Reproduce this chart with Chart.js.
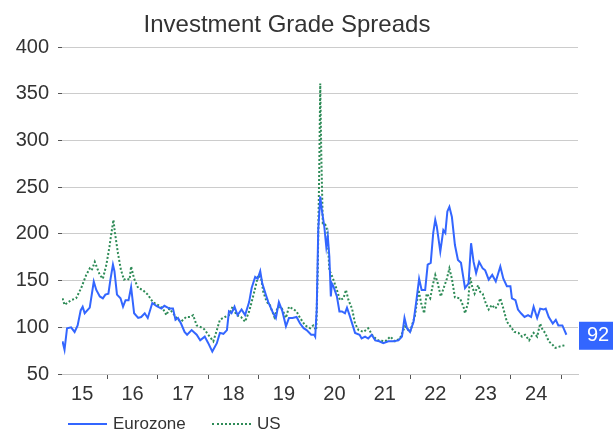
<!DOCTYPE html>
<html>
<head>
<meta charset="utf-8">
<script src="https://cdn.jsdelivr.net/npm/chart.js@4.4.1/dist/chart.umd.min.js"></script>
<style>
  html, body { margin: 0; padding: 0; background: #fff; overflow: hidden; }
  #wrap { position: relative; width: 613px; height: 430px; }
  #legend { position: absolute; left: 0; top: 413px; width: 613px; height: 22px;
            font: 17px "Liberation Sans", Arial, sans-serif; color: #333; }
  .item { position: absolute; top: 0; height: 22px; display: flex; align-items: center; white-space: nowrap; }
  .swatch { width: 39px; height: 0; margin-right: 6px; }
</style>
</head>
<body>
<div id="wrap">
  <canvas id="c" width="613" height="430"></canvas>
  <div id="legend"></div>
</div>
<script>
// ---- Data (dates as decimal years, values in bp) ----
const TITLE = "Investment Grade Spreads";
const seriesNames = ["Eurozone", "US"];
const yearLabels = ["15","16","17","18","19","20","21","22","23","24"];
const yTicks = [50, 100, 150, 200, 250, 300, 350, 400];

const euroDates = [
  2015.11,2015.15,2015.20,2015.28,2015.35,2015.41,2015.47,2015.51,2015.55,2015.65,
  2015.73,2015.78,2015.85,2015.91,2015.96,2016.02,2016.06,2016.11,2016.14,2016.19,
  2016.26,2016.31,2016.36,2016.42,2016.47,2016.53,2016.61,2016.67,2016.74,2016.80,
  2016.89,2016.97,2017.07,2017.13,2017.23,2017.30,2017.35,2017.40,2017.46,2017.53,
  2017.58,2017.67,2017.77,2017.84,2017.93,2018.00,2018.08,2018.17,2018.23,2018.30,
  2018.37,2018.41,2018.46,2018.52,2018.58,2018.66,2018.73,2018.81,2018.86,2018.93,
  2018.98,2019.03,2019.07,2019.14,2019.19,2019.27,2019.34,2019.40,2019.47,2019.54,
  2019.60,2019.67,2019.75,2019.82,2019.89,2019.95,2020.04,2020.10,2020.12,2020.15,
  2020.18,2020.22,2020.25,2020.30,2020.34,2020.37,2020.40,2020.43,2020.45,2020.48,
  2020.55,2020.60,2020.65,2020.71,2020.75,2020.80,2020.87,2020.91,2021.00,2021.04,
  2021.11,2021.17,2021.24,2021.31,2021.39,2021.47,2021.57,2021.67,2021.77,2021.84,
  2021.89,2021.94,2022.00,2022.07,2022.12,2022.18,2022.23,2022.30,2022.35,2022.41,
  2022.46,2022.50,2022.53,2022.60,2022.66,2022.70,2022.74,2022.78,2022.83,2022.89,
  2022.95,2023.01,2023.09,2023.16,2023.21,2023.26,2023.31,2023.37,2023.44,2023.49,
  2023.56,2023.63,2023.70,2023.79,2023.85,2023.92,2023.99,2024.02,2024.09,2024.14,
  2024.20,2024.27,2024.34,2024.40,2024.45,2024.52,2024.58,2024.65,2024.69,2024.75,
  2024.83,2024.89,2024.94,2025.02,2025.10
];
const euroValues = [
  85,76,99,100,95,102,118,122,115,121,
  149,140,133,131,135,136,151,167,160,135,
  131,122,129,129,143,115,110,111,115,110,
  126,123,120,123,120,120,108,110,104,95,
  92,97,92,86,90,83,74,83,94,93,
  97,117,115,122,113,119,113,127,142,154,
  152,160,147,135,127,117,110,127,117,101,
  110,110,111,104,99,97,92,92,90,119,
  204,240,226,208,186,197,176,133,147,144,
  133,117,117,115,121,113,101,94,92,88,
  90,88,92,86,85,83,85,85,86,90,
  110,99,95,106,126,152,140,140,167,169,
  201,215,208,181,204,201,224,229,218,188,
  172,169,142,147,190,170,158,170,163,161,
  151,156,149,165,152,144,144,131,129,119,
  115,111,113,111,122,110,120,119,120,111,
  104,108,102,102,92
];

const usDates = [
  2015.11,2015.15,2015.28,2015.38,2015.48,2015.58,2015.65,2015.69,2015.75,2015.85,
  2015.91,2015.98,2016.04,2016.08,2016.12,2016.15,2016.21,2016.27,2016.33,2016.37,
  2016.44,2016.47,2016.53,2016.61,2016.70,2016.80,2016.90,2017.00,2017.10,2017.17,
  2017.23,2017.33,2017.40,2017.46,2017.56,2017.64,2017.70,2017.77,2017.86,2017.92,
  2018.00,2018.10,2018.17,2018.23,2018.33,2018.41,2018.48,2018.56,2018.65,2018.73,
  2018.81,2018.86,2018.93,2018.99,2019.05,2019.09,2019.16,2019.22,2019.31,2019.38,
  2019.46,2019.54,2019.60,2019.67,2019.75,2019.82,2019.92,2020.02,2020.08,2020.14,
  2020.17,2020.20,2020.22,2020.24,2020.27,2020.32,2020.36,2020.40,2020.43,2020.48,
  2020.55,2020.61,2020.68,2020.73,2020.78,2020.85,2020.91,2020.98,2021.08,2021.17,
  2021.27,2021.37,2021.51,2021.61,2021.70,2021.80,2021.90,2022.00,2022.10,2022.17,
  2022.22,2022.28,2022.33,2022.40,2022.45,2022.50,2022.55,2022.61,2022.68,2022.73,
  2022.78,2022.83,2022.89,2022.99,2023.06,2023.09,2023.15,2023.19,2023.23,2023.28,
  2023.35,2023.39,2023.44,2023.50,2023.56,2023.62,2023.69,2023.74,2023.79,2023.85,
  2023.92,2023.99,2024.07,2024.15,2024.22,2024.28,2024.36,2024.45,2024.52,2024.58,
  2024.63,2024.68,2024.75,2024.83,2024.88,2024.94,2025.01,2025.09
];
const usValues = [
  131,124,129,131,142,156,163,161,170,156,
  152,167,186,201,215,201,179,161,151,152,
  151,165,152,142,140,135,127,124,120,113,
  120,113,108,106,111,111,113,102,100,98,
  92,85,97,108,111,113,122,113,111,106,
  117,127,142,156,152,138,127,124,111,122,
  120,110,122,120,117,110,102,99,102,97,
  161,268,361,286,211,210,204,161,158,151,
  140,129,131,140,129,120,104,97,95,99,
  90,86,85,90,85,88,101,95,113,140,
  126,115,136,131,145,156,147,133,144,152,
  163,152,132,131,122,115,126,154,144,136,
  145,138,136,126,119,124,120,124,131,120,
  106,101,95,94,90,92,86,94,90,104,
  97,94,85,81,78,79,80,81
];

// ---- Styling ----
const BLUE = "#3366ff";
const GREEN = "#2e8b57";
const FONT = '"Liberation Sans", Arial, sans-serif';
const TEXT = "#333333";
const X_MIN = 2015.10, X_MAX = 2025.33;

function toPoints(dates, values) {
  return dates.map((d, i) => ({ x: d, y: values[i] }));
}

// x tick positions: year boundaries (marks) and mid-years (labels)
const xTickValues = [];
yearLabels.forEach((lbl, i) => {
  const yr = 2015 + i;
  xTickValues.push(yr + 0.5);
  xTickValues.push(yr + 1);
});

const overlay = {
  id: "overlay",
  afterDraw(chart) {
    const ctx = chart.ctx;
    const area = chart.chartArea;
    ctx.save();
    ctx.font = "24px " + FONT;
    ctx.fillStyle = TEXT;
    ctx.textAlign = "center";
    ctx.textBaseline = "middle";
    ctx.fillText(TITLE, 287, 25);

    const last = euroValues[euroValues.length - 1];
    const py = chart.scales.y.getPixelForValue(last);
    const bx = area.right + 1;
    ctx.fillStyle = BLUE;
    ctx.fillRect(bx, py - 13, chart.width - bx, 28);
    ctx.fillStyle = "#ffffff";
    ctx.font = "20px " + FONT;
    ctx.fillText(String(last), (bx + chart.width) / 2 + 2, py + 1);
    ctx.restore();
  }
};

const chart = new Chart(document.getElementById("c"), {
  type: "line",
  data: {
    datasets: [
      { label: seriesNames[0], data: toPoints(euroDates, euroValues), borderColor: BLUE,
        backgroundColor: BLUE, borderWidth: 2, pointRadius: 0, tension: 0, fill: false },
      { label: seriesNames[1], data: toPoints(usDates, usValues), borderColor: GREEN,
        backgroundColor: GREEN, borderWidth: 2, borderDash: [2, 2], pointRadius: 0, tension: 0, fill: false }
    ]
  },
  options: {
    responsive: false,
    animation: false,
    devicePixelRatio: 1,
    layout: { padding: { left: 0, right: 35, top: 47, bottom: 26 } },
    plugins: { legend: { display: false }, title: { display: false }, tooltip: { enabled: false } },
    scales: {
      x: {
        type: "linear",
        min: X_MIN, max: X_MAX,
        afterBuildTicks(s) { s.ticks = xTickValues.map(v => ({ value: v })); },
        afterFit(s) { s.height = 30; },
        ticks: {
          autoSkip: false, maxRotation: 0, minRotation: 0, padding: 3,
          color: TEXT, font: { size: 20, family: FONT },
          callback(v) {
            if (Math.abs(v - Math.floor(v) - 0.5) < 1e-6) {
              return yearLabels[Math.floor(v) - 2015];
            }
            return "";
          }
        },
        grid: {
          drawOnChartArea: false, drawTicks: true, tickLength: 5,
          tickColor(c) {
            return c.tick && Number.isInteger(c.tick.value) ? "#555555" : "rgba(0,0,0,0)";
          }
        },
        border: { display: true, color: "#c8c8c8", width: 1 }
      },
      y: {
        min: 50, max: 400,
        afterBuildTicks(s) { s.ticks = yTicks.map(v => ({ value: v })); },
        afterFit(s) { s.width = 62; },
        ticks: { padding: 9, color: TEXT, font: { size: 20, family: FONT } },
        grid: { color: "#cccccc", lineWidth: 1, tickLength: 4, tickColor: "#555555" },
        border: { display: false }
      }
    }
  },
  plugins: [overlay]
});

// HTML legend built from the datasets
const legendEl = document.getElementById("legend");
const legendLefts = [68, 212];
chart.data.datasets.forEach((ds, i) => {
  const item = document.createElement("div");
  item.className = "item";
  item.style.left = legendLefts[i] + "px";
  const sw = document.createElement("span");
  sw.className = "swatch";
  sw.style.borderTop = ds.borderDash ? "2px dotted " + ds.borderColor : "2px solid " + ds.borderColor;
  const txt = document.createElement("span");
  txt.textContent = ds.label;
  item.appendChild(sw);
  item.appendChild(txt);
  legendEl.appendChild(item);
});
</script>
</body>
</html>
